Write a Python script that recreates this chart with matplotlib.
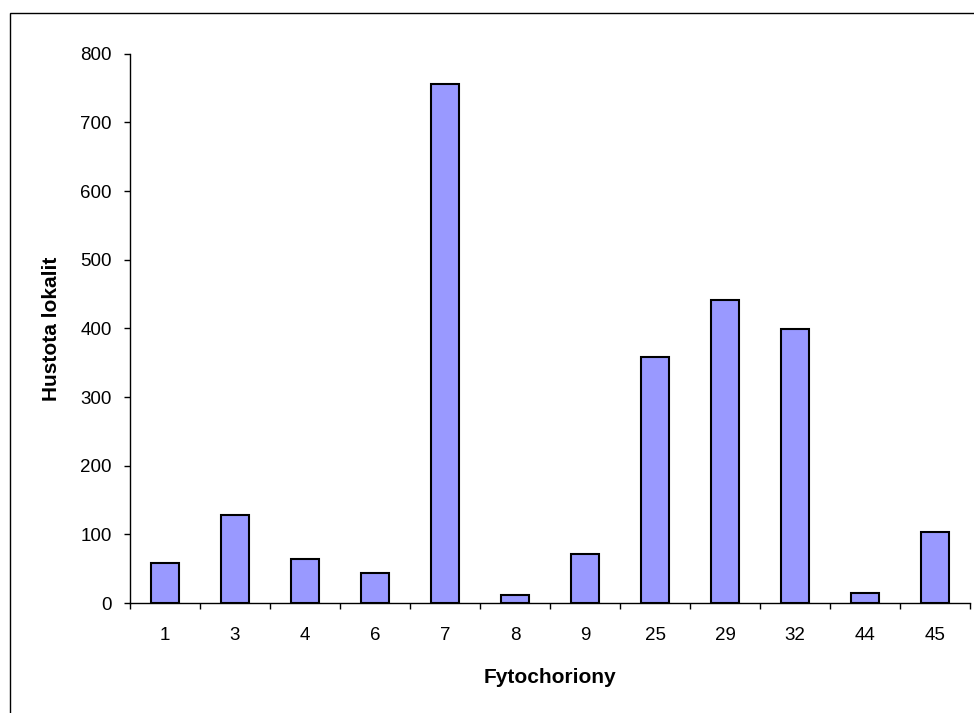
import matplotlib
matplotlib.use("Agg")
import matplotlib.pyplot as plt
import matplotlib.patches as patches
import numpy as np

categories = ["1", "3", "4", "6", "7", "8", "9", "25", "29", "32", "44", "45"]
values = [58, 128, 64, 43, 756, 11, 72, 358, 442, 399, 14, 104]
yticks = [0, 100, 200, 300, 400, 500, 600, 700, 800]

plt.rcParams['font.family'] = ['Liberation Sans', 'DejaVu Sans']

W, H = 974, 713
fig = plt.figure(figsize=(W / 100, H / 100), dpi=100)
ax = fig.add_axes([130 / W, 1 - 603 / H, 840 / W, (603 - 53.7) / H])

x = np.arange(len(categories))
ax.bar(x, values, width=0.41, color="#9999FF", edgecolor="black", linewidth=1.5, zorder=3)

ax.set_xlim(-0.5, len(categories) - 0.5)
ax.set_ylim(0, 800)
ax.set_yticks(yticks)
ax.set_xticks(x)
ax.set_xticklabels(categories)
ax.set_xticks(np.arange(-0.5, len(categories) + 0.5, 1.0), minor=True)
ax.tick_params(axis='x', which='major', length=0, pad=17, labelsize=13.5)
ax.tick_params(axis='x', which='minor', length=4.3, width=1, direction='out')
ax.tick_params(axis='y', which='major', length=4.3, width=1, direction='out', pad=8.9, labelsize=13.5)

for s in ["top", "right"]:
    ax.spines[s].set_visible(False)
for s in ["left", "bottom"]:
    ax.spines[s].set_linewidth(1.0)

ax.set_xlabel("Fytochoriony", fontsize=15, fontweight="bold", labelpad=17.5)
ax.set_ylabel("Hustota lokalit", fontsize=15, fontweight="bold", labelpad=14)

rect = patches.Rectangle((10 / W, -0.1), 1.2, 1 - 13 / H + 0.1, transform=fig.transFigure,
                         fill=False, edgecolor="black", linewidth=1.0, clip_on=False)
fig.patches.append(rect)

fig.savefig("out.png", dpi=100)
